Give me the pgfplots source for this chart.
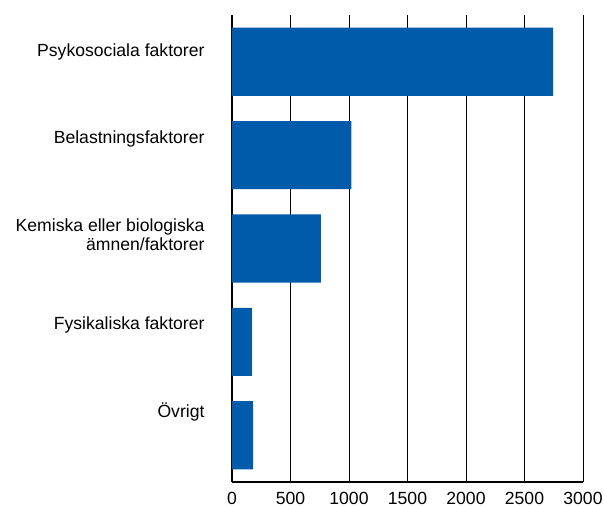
\documentclass[border=0pt]{standalone}
\usepackage{pgfplots}
\pgfplotsset{compat=1.18}
\usepackage{fontspec}
\setmainfont{Liberation Sans}
\definecolor{barblue}{RGB}{0,91,170}
\begin{document}
\begin{tikzpicture}
\begin{axis}[
  scale only axis,
  width=351bp, height=467bp,
  xbar,
  bar width=0.73,
  xmin=0, xmax=3000,
  ymin=-0.5, ymax=4.5,
  axis lines*=left,
  x axis line style={-, line width=1.3bp, black},
  y axis line style={-, line width=2.6bp, black},
  xtick={0,500,...,3000},
  ytick={0,1,2,3,4},
  yticklabels={{\raisebox{17.8bp}{Övrigt}},{\raisebox{12.7bp}{Fysikaliska faktorer}},{Kemiska eller biologiska\\[-2.5bp]\raisebox{-2.5bp}{ämnen/faktorer}},{\raisebox{11.2bp}{Belastningsfaktorer}},{\raisebox{5bp}{Psykosociala faktorer}}},
  major tick length=0pt,
  xmajorgrids,
  major grid style={black, line width=0.9bp},
  /pgf/number format/assume math mode=true,
  /pgf/number format/set thousands separator={},
  tick label style={font=\fontsize{17.6bp}{19.3bp}\selectfont},
  y tick label style={align=right, anchor=base east, xshift=-24bp},
  x tick label style={inner sep=0pt, anchor=north, yshift=-9.7bp},
]
\addplot[fill=barblue, draw=none] coordinates {
  (180,0) (170,1) (760,2) (1020,3) (2745,4)
};
\end{axis}
\pgfresetboundingbox
\path ([xshift=-232bp,yshift=-24bp]current axis.south west) rectangle ([xshift=372bp,yshift=15bp]current axis.north west);
\end{tikzpicture}
\end{document}
